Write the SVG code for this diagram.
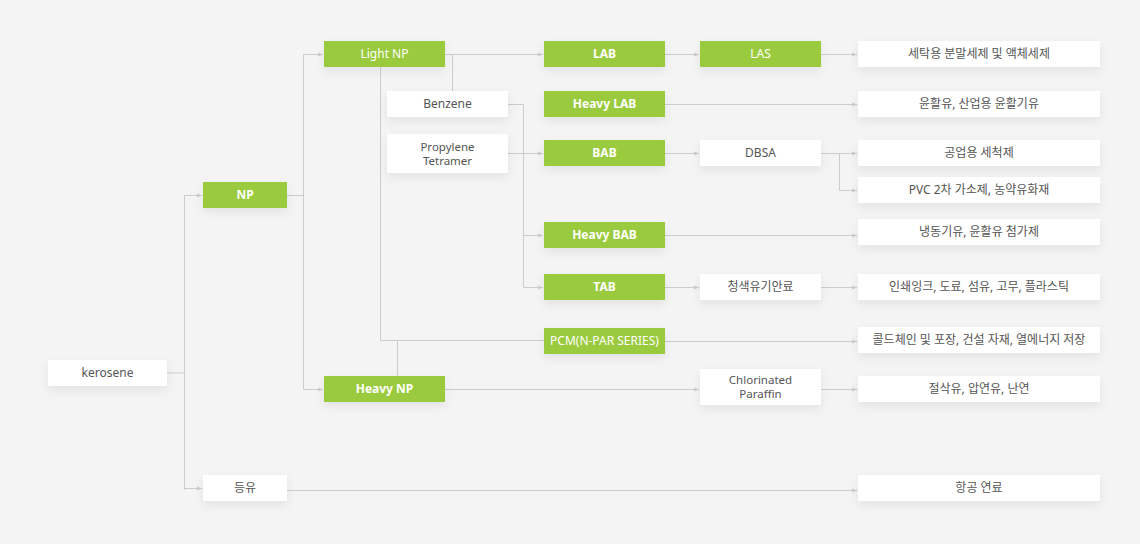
<svg xmlns="http://www.w3.org/2000/svg" width="1140" height="544" viewBox="0 0 1140 544">
<style>
.bg{fill:#f4f4f4}
.g rect{fill:#9aca3c}
.w rect{fill:#ffffff}
.g text{fill:#ffffff;font-weight:bold}
.g text.n{font-weight:normal}
.w text{fill:#555555}
text{font-family:"Noto Sans","Noto Sans CJK KR",sans-serif;font-size:12px;text-anchor:middle}
text.two{font-size:11.5px}
.c{fill:none;stroke:#cccccc;stroke-width:1}
.a{marker-end:url(#ah)}
</style>
<defs>
<filter id="sh" x="-20%" y="-40%" width="140%" height="200%">
<feDropShadow dx="0" dy="4" stdDeviation="4" flood-color="#000" flood-opacity="0.07"/>
</filter>
<marker id="ah" markerUnits="userSpaceOnUse" markerWidth="6" markerHeight="6" refX="5" refY="3" orient="auto">
<path d="M0,1 L5,3 L0,5 z" fill="#cccccc"/>
</marker>
</defs>
<rect class="bg" x="0" y="0" width="1140" height="544"/>

<g id="connectors">
<path class="c" d="M167,373 H184.5 M184.5,195 V490"/>
<path class="c a" d="M184.5,195.5 H202"/>
<path class="c a" d="M184.5,488.5 H202"/>
<path class="c" d="M287,195.5 H303.5 M303.5,54.5 V389.5"/>
<path class="c a" d="M303.5,54.5 H323"/>
<path class="c a" d="M303.5,389.5 H323"/>
<path class="c a" d="M445,54.5 H543"/>
<path class="c" d="M452.5,54.5 V91"/>
<path class="c" d="M380.5,67 V340.5 H544"/>
<path class="c" d="M397.5,376 V340.5"/>
<path class="c a" d="M445,389.5 H699"/>
<path class="c" d="M508,104.5 H523.5 V287.5"/>
<path class="c a" d="M523.5,235.5 H543"/>
<path class="c a" d="M523.5,287.5 H543"/>
<path class="c a" d="M508,153.5 H543"/>
<path class="c a" d="M665,54.5 H699"/>
<path class="c a" d="M821,54.5 H857"/>
<path class="c a" d="M665,104.5 H857"/>
<path class="c a" d="M665,153.5 H699"/>
<path class="c a" d="M821,153.5 H857"/>
<path class="c a" d="M839.5,153.5 V190.5 H857"/>
<path class="c a" d="M665,235.5 H857"/>
<path class="c a" d="M665,287.5 H699"/>
<path class="c a" d="M821,287.5 H857"/>
<path class="c a" d="M665,341.5 H857"/>
<path class="c a" d="M821,389.5 H857"/>
<path class="c a" d="M287,490.5 H857"/>
</g>

<g id="kerosene" class="w"><rect x="48" y="360" width="119" height="26" filter="url(#sh)"/><text x="107.5" y="377">kerosene</text></g>
<g id="np" class="g"><rect x="203" y="182" width="84" height="26" filter="url(#sh)"/><text x="245" y="199">NP</text></g>
<g id="deungyu" class="w"><rect x="203" y="475" width="84" height="26" filter="url(#sh)"/><text x="245" y="492">등유</text></g>
<g id="light-np" class="g"><rect x="324" y="41" width="121" height="26" filter="url(#sh)"/><text class="n" x="384.5" y="58">Light NP</text></g>
<g id="heavy-np" class="g"><rect x="324" y="376" width="121" height="26" filter="url(#sh)"/><text x="384.5" y="393">Heavy NP</text></g>
<g id="benzene" class="w"><rect x="387" y="91" width="121" height="26" filter="url(#sh)"/><text x="447.5" y="108">Benzene</text></g>
<g id="propylene" class="w"><rect x="387" y="134" width="121" height="39" filter="url(#sh)"/><text class="two" x="447.5" y="151">Propylene</text><text class="two" x="447.5" y="165">Tetramer</text></g>
<g id="lab" class="g"><rect x="544" y="41" width="121" height="26" filter="url(#sh)"/><text x="604.5" y="58">LAB</text></g>
<g id="heavy-lab" class="g"><rect x="544" y="91" width="121" height="26" filter="url(#sh)"/><text x="604.5" y="108">Heavy LAB</text></g>
<g id="bab" class="g"><rect x="544" y="140" width="121" height="26" filter="url(#sh)"/><text x="604.5" y="157">BAB</text></g>
<g id="heavy-bab" class="g"><rect x="544" y="222" width="121" height="26" filter="url(#sh)"/><text x="604.5" y="239">Heavy BAB</text></g>
<g id="tab" class="g"><rect x="544" y="274" width="121" height="26" filter="url(#sh)"/><text x="604.5" y="291">TAB</text></g>
<g id="pcm" class="g"><rect x="544" y="328" width="121" height="26" filter="url(#sh)"/><text class="n" x="604.5" y="345">PCM(N-PAR SERIES)</text></g>
<g id="las" class="g"><rect x="700" y="41" width="121" height="26" filter="url(#sh)"/><text class="n" x="760.5" y="58">LAS</text></g>
<g id="dbsa" class="w"><rect x="700" y="140" width="121" height="26" filter="url(#sh)"/><text x="760.5" y="157">DBSA</text></g>
<g id="pigment" class="w"><rect x="700" y="274" width="121" height="26" filter="url(#sh)"/><text x="760.5" y="291">청색유기안료</text></g>
<g id="chlorinated" class="w"><rect x="700" y="369" width="121" height="36" filter="url(#sh)"/><text class="two" x="760.5" y="384">Chlorinated</text><text class="two" x="760.5" y="398">Paraffin</text></g>
<g id="out-detergent" class="w"><rect x="858" y="41" width="242" height="26" filter="url(#sh)"/><text x="979" y="58">세탁용 분말세제 및 액체세제</text></g>
<g id="out-lube" class="w"><rect x="858" y="91" width="242" height="26" filter="url(#sh)"/><text x="979" y="108">윤활유, 산업용 윤활기유</text></g>
<g id="out-cleaner" class="w"><rect x="858" y="140" width="242" height="26" filter="url(#sh)"/><text x="979" y="157">공업용 세척제</text></g>
<g id="out-pvc" class="w"><rect x="858" y="177" width="242" height="26" filter="url(#sh)"/><text x="979" y="194">PVC 2차 가소제, 농약유화재</text></g>
<g id="out-refrig" class="w"><rect x="858" y="219" width="242" height="26" filter="url(#sh)"/><text x="979" y="236">냉동기유, 윤활유 첨가제</text></g>
<g id="out-ink" class="w"><rect x="858" y="274" width="242" height="26" filter="url(#sh)"/><text x="979" y="291">인쇄잉크, 도료, 섬유, 고무, 플라스틱</text></g>
<g id="out-cold" class="w"><rect x="858" y="327" width="242" height="26" filter="url(#sh)"/><text x="979" y="344">콜드체인 및 포장, 건설 자재, 열에너지 저장</text></g>
<g id="out-cutting" class="w"><rect x="858" y="376" width="242" height="26" filter="url(#sh)"/><text x="979" y="393">절삭유, 압연유, 난연</text></g>
<g id="out-jet" class="w"><rect x="858" y="475" width="242" height="26" filter="url(#sh)"/><text x="979" y="492">항공 연료</text></g>
</svg>
